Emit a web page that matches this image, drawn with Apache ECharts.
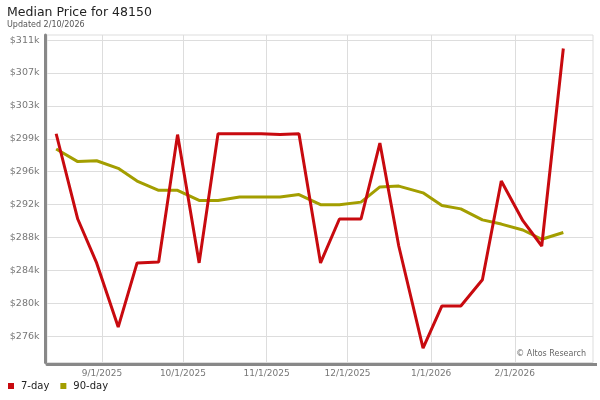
<!DOCTYPE html>
<html>
<head>
<meta charset="utf-8">
<script src="https://cdn.jsdelivr.net/npm/echarts@6/dist/echarts.min.js"></script>
<style>
  html, body { margin: 0; padding: 0; background: #fff; }
  #main { width: 600px; height: 400px; }
</style>
</head>
<body>
<div id="main"></div>
<script>
// weekly reading dates
var dates = ['2025-08-15', '2025-08-23', '2025-08-30', '2025-09-07', '2025-09-14', '2025-09-22',
  '2025-09-29', '2025-10-07', '2025-10-14', '2025-10-22', '2025-10-30', '2025-11-06',
  '2025-11-13', '2025-11-21', '2025-11-28', '2025-12-06', '2025-12-13', '2025-12-20',
  '2025-12-29', '2026-01-05', '2026-01-12', '2026-01-20', '2026-01-27', '2026-02-04',
  '2026-02-11', '2026-02-19'];
var sevenDay = [300000, 289900, 284700, 277100, 284700, 284800, 299900, 284700, 300000, 300000,
  300000, 299900, 300000, 284700, 289900, 289900, 298900, 286700, 274600, 279600,
  279600, 282700, 294400, 289700, 286700, 310100];
var ninetyDay = [298200, 296700, 296800, 295900, 294400, 293300, 293300, 292100, 292100, 292500,
  292500, 292500, 292800, 291600, 291600, 291900, 293700, 293800, 293000, 291500,
  291100, 289800, 289300, 288600, 287500, 288300];
var yTicks = [276000, 279900, 283800, 287700, 291600, 295500, 299400, 303300, 307200, 311100];
var monthTicks = ['2025-09-01', '2025-10-01', '2025-11-01', '2025-12-01', '2026-01-01', '2026-02-01'];

var myChart = echarts.init(document.getElementById('main'));

// 'yyyy-mm-dd' -> timestamp (local midnight)
function ts(s) {
  var p = s.split('-');
  return new Date(+p[0], +p[1] - 1, +p[2]).getTime();
}

function pairs(vals) {
  var out = [];
  for (var i = 0; i < dates.length; i++) {
    out.push([ts(dates[i]), vals[i]]);
  }
  return out;
}

var monthValues = monthTicks.map(ts);
var font = 'DejaVu Sans';

var option = {
  animation: false,
  textStyle: { fontFamily: font },
  title: [{
    text: 'Median Price for 48150',
    left: 7,
    top: 6,
    padding: 0,
    textStyle: { fontSize: 12.5, fontWeight: 'normal', color: '#222', fontFamily: font }
  }, {
    text: 'Updated 2/10/2026',
    left: 7,
    top: 21,
    padding: 0,
    textStyle: { fontSize: 8, fontWeight: 'normal', color: '#555', fontFamily: font }
  }],
  legend: {
    data: ['7-day', '90-day'],
    left: 8,
    top: 381,
    padding: 0,
    icon: 'rect',
    itemWidth: 6,
    itemHeight: 6,
    itemGap: 11,
    textStyle: { fontSize: 10, color: '#222', fontFamily: font, padding: [0, 0, 0, 2] }
  },
  grid: {
    left: 47,
    right: 7,
    top: 35,
    bottom: 37.5,
    show: true,
    borderColor: '#ddd',
    borderWidth: 1
  },
  xAxis: {
    type: 'value',
    min: new Date(2025, 7, 11, 14, 30).getTime(),
    max: new Date(2026, 2, 2, 0, 0).getTime(),
    offset: 2,
    axisLine: { show: true, lineStyle: { color: '#888', width: 3 } },
    axisTick: { show: false, customValues: monthValues },
    axisLabel: {
      customValues: monthValues,
      margin: 5,
      fontSize: 9,
      color: '#777',
      fontFamily: font,
      formatter: function (v) {
        var d = new Date(v);
        return (d.getMonth() + 1) + '/' + d.getDate() + '/' + d.getFullYear();
      }
    },
    splitLine: { show: true, lineStyle: { color: '#ddd', width: 1 } }
  },
  yAxis: {
    type: 'value',
    min: 272900,
    max: 311700,
    offset: 1.5,
    axisLine: { show: true, lineStyle: { color: '#888', width: 3 } },
    axisTick: { show: false, customValues: yTicks },
    axisLabel: {
      customValues: yTicks,
      margin: 6,
      fontSize: 9.5,
      color: '#777',
      fontFamily: font,
      formatter: function (v) {
        return '$' + Math.round(v / 1000) + 'k';
      }
    },
    splitLine: { show: true, lineStyle: { color: '#ddd', width: 1 } }
  },
  graphic: [{
    type: 'text',
    right: 14,
    top: 350,
    style: { text: '\u00a9 Altos Research', fontSize: 8, fill: '#666', fontFamily: font }
  }, {
    // frame shadow runs a little past the plot's right edge
    type: 'line',
    shape: { x1: 592, y1: 364.5, x2: 597, y2: 364.5 },
    style: { stroke: '#888', lineWidth: 3 }
  }],
  series: [{
    name: '90-day',
    type: 'line',
    data: pairs(ninetyDay),
    showSymbol: false,
    symbol: 'none',
    z: 2,
    color: '#a39e00',
    lineStyle: { width: 3, color: '#a39e00' }
  }, {
    name: '7-day',
    type: 'line',
    data: pairs(sevenDay),
    showSymbol: false,
    symbol: 'none',
    z: 3,
    color: '#c80a0f',
    lineStyle: { width: 3, color: '#c80a0f' }
  }]
};

myChart.setOption(option);
</script>
</body>
</html>
